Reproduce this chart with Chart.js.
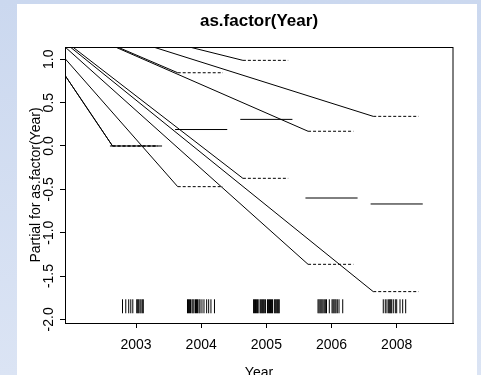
<!DOCTYPE html>
<html><head><meta charset="utf-8">
<script src="https://cdn.jsdelivr.net/npm/chart.js@4"></script>
<style>
html,body{margin:0;padding:0;width:481px;height:375px;overflow:hidden;background:linear-gradient(#cbd8ef,#dbe4f4);}
#panel{position:absolute;left:17px;top:4px;width:460px;height:371px;background:#fff;}
#c{position:absolute;left:0;top:0;}
</style></head><body>
<div id="panel"></div>
<canvas id="c" width="481" height="375"></canvas>
<script>
// ---- data ----
const years = ['2003', '2004', '2005', '2006', '2008'];
const effect = [0, 0.19, 0.307, -0.60, -0.669];
const upperSE = [0, 0.845, 0.988, 0.17, 0.342];
const lowerSE = [0, -0.469, -0.373, -1.365, -1.68];
const yTicks = [-2.0, -1.5, -1.0, -0.5, 0.0, 0.5, 1.0];
const yTickLabels = ['-2.0', '-1.5', '-1.0', '-0.5', '0.0', '0.5', '1.0'];
const rug2003 = [0.793, 0.843, 0.888, 0.920, 0.951, 1.011, 1.026, 1.041, 1.061, 1.077, 1.097, 1.112];
const rug2004 = [1.790, 1.805, 1.820, 1.836, 1.859, 1.874, 1.890, 1.913, 1.928, 1.943, 1.966, 1.982, 2.012, 2.043, 2.084, 2.115, 2.150, 2.204];
const rug2005 = [2.804, 2.819, 2.834, 2.850, 2.865, 2.885, 2.908, 2.923, 2.939, 2.954, 2.969, 2.988, 3.018, 3.034, 3.049, 3.064, 3.080, 3.095, 3.123, 3.138, 3.153, 3.169, 3.184, 3.198];
const rug2006 = [3.793, 3.808, 3.824, 3.839, 3.854, 3.870, 3.888, 3.905, 3.923, 3.966, 4.008, 4.023, 4.038, 4.054, 4.069, 4.089, 4.115, 4.172];
const rug2008 = [4.794, 4.825, 4.851, 4.877, 4.893, 4.908, 4.923, 4.948, 4.979, 5.000, 5.051, 5.092, 5.138];
// start point of the (artifact) solid leaders drawn into each SE line
const seOrigin = {x: -0.826, y: 1.638};
const title = 'as.factor(Year)';
const xTitle = 'Year';
const yTitle = 'Partial for as.factor(Year)';

// ---- layout / style constants ----
const X_MIN = -0.0895, X_MAX = 5.864, Y_MIN = -2.042, Y_MAX = 1.142;
const EFF_HALF = 0.4, SE_LEFT = 0.36, SE_RIGHT = 0.335;
const RUG_Y = -1.849;
const FONT = "'Liberation Sans', Arial, Helvetica, sans-serif";
Chart.defaults.font.family = FONT;

const datasets = [];
years.forEach((y, i) => {
  const j = i + 1;
  datasets.push({
    type: 'line',
    data: [{x: j - EFF_HALF, y: effect[i]}, {x: j + EFF_HALF, y: effect[i]}],
    borderColor: '#000', borderWidth: 1, pointRadius: 0, fill: false
  });
  [upperSE, lowerSE].forEach(arr => {
    datasets.push({
      type: 'line',
      data: [seOrigin, {x: j - SE_LEFT, y: arr[i]}, {x: j + SE_RIGHT, y: arr[i]}],
      borderColor: '#000', borderWidth: 1, pointRadius: 0, fill: false,
      segment: {borderDash: ctx => ctx.p0DataIndex === 0 ? [] : [3, 2]}
    });
  });
});
const rugAll = [].concat(rug2003, rug2004, rug2005, rug2006, rug2008);
datasets.push({
  type: 'scatter',
  data: rugAll.map(v => ({x: v, y: RUG_Y})),
  pointStyle: 'line', rotation: 90, pointRadius: 7, pointHoverRadius: 7,
  borderColor: '#000', borderWidth: 1, backgroundColor: '#000'
});

const textPlugin = {
  id: 'rtext',
  afterDraw(chart) {
    const ctx = chart.ctx, ca = chart.chartArea;
    const ys = chart.scales.y;
    ctx.save();
    // box top & right
    ctx.strokeStyle = '#000';
    ctx.lineWidth = 1;
    ctx.beginPath();
    ctx.moveTo(ca.left, 47.5); ctx.lineTo(ca.right, 47.5);
    ctx.moveTo(ca.right, 47); ctx.lineTo(ca.right, ca.bottom + 1);
    ctx.stroke();
    ctx.fillStyle = '#000';
    // title
    ctx.font = 'bold 17px ' + FONT;
    ctx.textAlign = 'center';
    ctx.textBaseline = 'middle';
    ctx.fillText(title, (ca.left + ca.right) / 2, 21);
    // x title
    ctx.font = '14px ' + FONT;
    ctx.textBaseline = 'alphabetic';
    ctx.fillText(xTitle, (ca.left + ca.right) / 2, 377);
    // y tick labels rotated
    yTicks.forEach((v, k) => {
      const py = ys.getPixelForValue(v);
      ctx.save();
      ctx.translate(53, py);
      ctx.rotate(-Math.PI / 2);
      ctx.textAlign = 'center';
      ctx.textBaseline = 'alphabetic';
      ctx.fillText(yTickLabels[k], 0, 0);
      ctx.restore();
    });
    // y title
    ctx.save();
    ctx.translate(40, (ca.top + ca.bottom) / 2);
    ctx.rotate(-Math.PI / 2);
    ctx.textAlign = 'center';
    ctx.textBaseline = 'alphabetic';
    ctx.fillText(yTitle, 0, 0);
    ctx.restore();
    ctx.restore();
  }
};

new Chart(document.getElementById('c'), {
  type: 'line',
  data: {datasets},
  options: {
    responsive: false, animation: false, devicePixelRatio: 1,
    layout: {padding: {left: 0, right: 28, top: 47, bottom: 0}},
    plugins: {legend: {display: false}, tooltip: {enabled: false}, title: {display: false}},
    events: [],
    scales: {
      x: {
        type: 'linear', position: 'bottom', min: X_MIN, max: X_MAX,
        afterBuildTicks: axis => { axis.ticks = years.map((_, i) => ({value: i + 1})); },
        afterFit: axis => { axis.height = 52; },
        ticks: {
          autoSkip: false, maxRotation: 0, minRotation: 0, padding: 9,
          color: '#000', font: {size: 14, family: FONT},
          callback: v => years[Math.round(v) - 1]
        },
        grid: {drawOnChartArea: false, drawTicks: true, tickLength: 5, color: '#000', lineWidth: 1},
        border: {display: true, color: '#000', width: 1}
      },
      y: {
        type: 'linear', position: 'left', min: Y_MIN, max: Y_MAX,
        afterBuildTicks: axis => { axis.ticks = yTicks.map(v => ({value: v})); },
        afterFit: axis => { axis.width = 65; },
        ticks: {display: false},
        grid: {drawOnChartArea: false, drawTicks: true, tickLength: 5, color: '#000', lineWidth: 1},
        border: {display: true, color: '#000', width: 1}
      }
    }
  },
  plugins: [textPlugin]
});
</script>
</body></html>
